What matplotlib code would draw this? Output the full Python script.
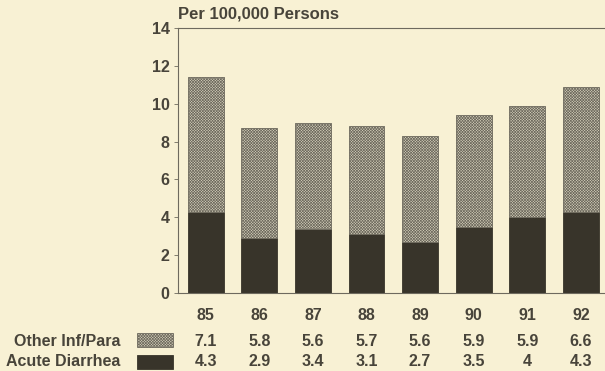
import matplotlib.pyplot as plt
import matplotlib.transforms as mtransforms
from matplotlib.patches import Rectangle
import numpy as np

years = ['85', '86', '87', '88', '89', '90', '91', '92']
acute_diarrhea = [4.3, 2.9, 3.4, 3.1, 2.7, 3.5, 4, 4.3]
other_inf_para = [7.1, 5.8, 5.6, 5.7, 5.6, 5.9, 5.9, 6.6]
acute_labels = ['4.3', '2.9', '3.4', '3.1', '2.7', '3.5', '4', '4.3']
other_labels = ['7.1', '5.8', '5.6', '5.7', '5.6', '5.9', '5.9', '6.6']

bg = '#f8f1d4'
dark = '#38342a'
light = '#d4cfba'
text_c = '#48443a'
fs = 11.5

plt.rcParams['font.family'] = ['Liberation Sans', 'DejaVu Sans']
plt.rcParams['hatch.linewidth'] = 0.5
plt.rcParams['hatch.color'] = '#9a9584'

fig = plt.figure(figsize=(6.05, 3.71), dpi=100, facecolor=bg)
ax = fig.add_axes([0.294, 0.21, 0.706, 0.715])
ax.set_facecolor(bg)

x = np.arange(len(years))
ax.bar(x, acute_diarrhea, width=0.67, color=dark, edgecolor=dark, linewidth=0.6)
ax.bar(x, other_inf_para, width=0.67, bottom=acute_diarrhea, color=light,
       edgecolor='#6e6a5e', linewidth=0.6, hatch='x' * 12)

ax.set_xlim(-0.52, 7.45)
ax.set_ylim(0, 14)
ax.set_yticks(range(0, 15, 2))
ax.set_xticks([])
ax.spines['right'].set_visible(False)
for s in ['left', 'top', 'bottom']:
    ax.spines[s].set_color('#6e6a5e')
    ax.spines[s].set_linewidth(0.8)
ax.tick_params(axis='y', length=3, width=0.6, color='#6e6a5e', pad=3,
               labelsize=fs, labelcolor=text_c)
for lbl in ax.get_yticklabels():
    lbl.set_fontweight('bold')

ax.text(0, 1.025, 'Per 100,000 Persons', transform=ax.transAxes, fontsize=12,
        fontweight='bold', color=text_c, ha='left', va='bottom')

# table under the chart
trans = mtransforms.blended_transform_factory(ax.transData, fig.transFigure)
row_y = [1 - 316 / 371, 1 - 341 / 371, 1 - 362 / 371]
for i in range(len(years)):
    fig.text(x[i], row_y[0], years[i], transform=trans, ha='center', va='center',
             fontsize=fs, fontweight='bold', color=text_c)
    fig.text(x[i], row_y[1], other_labels[i], transform=trans, ha='center', va='center',
             fontsize=fs, fontweight='bold', color=text_c)
    fig.text(x[i], row_y[2], acute_labels[i], transform=trans, ha='center', va='center',
             fontsize=fs, fontweight='bold', color=text_c)

fig.text(120 / 605, row_y[1], 'Other Inf/Para', ha='right', va='center',
         fontsize=fs, fontweight='bold', color=text_c)
fig.text(120 / 605, row_y[2], 'Acute Diarrhea', ha='right', va='center',
         fontsize=fs, fontweight='bold', color=text_c)
fig.patches.append(Rectangle((137 / 605, 1 - 347 / 371), 36 / 605, 14 / 371,
                             transform=fig.transFigure, facecolor=light,
                             edgecolor='#6e6a5e', linewidth=0.6, hatch='x' * 12))
fig.patches.append(Rectangle((137 / 605, 1 - 369 / 371), 36 / 605, 14 / 371,
                             transform=fig.transFigure, facecolor=dark,
                             edgecolor=dark, linewidth=0.6))

fig.savefig('out.png', dpi=100, facecolor=bg)
